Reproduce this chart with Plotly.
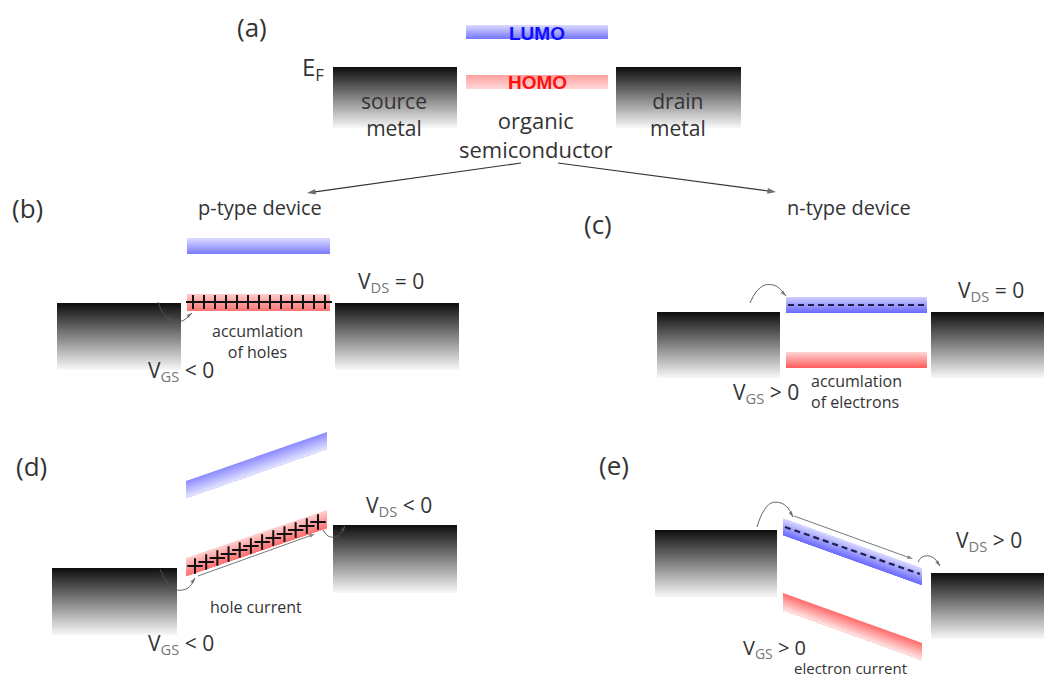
import plotly.graph_objects as go

W, H = 1044, 677

# ---- data: metal contacts (x0, x1, top, bottom) in picture units ----
metal_x0 = [333, 616, 57, 335, 657, 931, 52, 333, 655, 931]
metal_x1 = [457, 741, 181, 459, 780, 1044, 177, 457, 777, 1044]
metal_top = [67, 67, 303, 303, 312, 312, 568, 525, 530, 573]
metal_bot = [128, 128, 370, 370, 378, 378, 635, 593, 597, 639]

# ---- data: organic bands (x0, x1, top at left, top at right, thickness, colours) ----
band_x0 = [466, 466, 187, 187, 786, 786, 186, 186, 783, 783]
band_x1 = [608, 608, 330, 330, 927, 927, 327, 327, 922, 922]
band_yl = [25, 75, 238, 294, 297, 352, 481, 558, 518, 593]
band_yr = [25, 75, 238, 294, 297, 352, 432, 510, 568, 643]
band_th = [14, 14, 16, 17, 16, 16, 17, 18, 17, 17]
band_ctop = ["#dcdcff", "#ffa0a0", "#dcdcff", "#ffcccc", "#cfcfff", "#ffd4d4",
             "#8a8aff", "#ffd0d0", "#dadaff", "#ff6a6a"]
band_cbot = ["#7474ff", "#ffd8d8", "#7a7aff", "#ff7272", "#6a6aff", "#ff5c5c",
             "#e4e4ff", "#ff7070", "#6a6aff", "#ffe4e4"]

# ---- data: holes (+) and electrons (dashes) ----
plus_b_x = [193 + i * 11 for i in range(13)]
plus_b_y = [302] * 13
plus_d_x0, plus_d_x1, plus_d_y0, plus_d_y1, plus_d_n = 195, 318, 566, 522, 12
dash_c = ([788, 925], [305, 305])
dash_e = ([785, 920], [527, 574])

# ---- data: labels ----
labels = [
    ("(a)", 252, 27, 26, "center"), ("E<sub>F</sub>", 313, 68, 24, "center"),
    ("source<br>metal", 394, 114, 21, "center"),
    ("drain<br>metal", 678, 114, 21, "center"),
    ("organic<br>semiconductor", 536, 134, 22, "center"),
    ("(b)", 27, 208, 26, "center"), ("p-type device", 260, 207, 20, "center"),
    ("V<sub><span style='color:#777'>DS</span></sub> = 0", 391, 282, 21, "center"),
    ("accumlation<br>of holes", 257, 341, 16, "center"),
    ("V<sub><span style='color:#777'>GS</span></sub> &lt; 0", 181, 371, 21, "center"),
    ("(c)", 598, 224, 26, "center"), ("n-type device", 849, 207, 20, "center"),
    ("V<sub><span style='color:#777'>DS</span></sub> = 0", 991, 291, 21, "center"),
    ("V<sub><span style='color:#777'>GS</span></sub> &gt; 0", 766, 393, 21, "center"),
    ("accumlation<br>of electrons", 809, 391, 16, "left"),
    ("(d)", 31, 466, 26, "center"),
    ("V<sub><span style='color:#777'>DS</span></sub> &lt; 0", 399, 506, 21, "center"),
    ("hole current", 256, 607, 16, "center"),
    ("V<sub><span style='color:#777'>GS</span></sub> &lt; 0", 181, 644, 21, "center"),
    ("(e)", 614, 465, 26, "center"),
    ("V<sub><span style='color:#777'>DS</span></sub> &gt; 0", 989, 541, 21, "center"),
    ("V<sub><span style='color:#777'>GS</span></sub> &gt; 0", 774, 648, 20, "center"),
    ("electron current", 850, 668, 15, "center"),
]

# ---- data: small curved arrows (polyline points) ----
curves = [
    [(158, 302), (163, 313), (172, 320), (182, 321), (192, 313)],
    [(750, 303), (756, 292), (765, 285), (776, 286), (786, 296)],
    [(160, 569), (167, 582), (177, 590), (188, 588), (195, 578)],
    [(323, 530), (328, 536), (335, 537), (341, 533), (345, 526)],
    [(757, 527), (763, 512), (771, 503), (781, 503), (788, 508), (793, 517)],
    [(918, 562), (922, 557), (929, 556), (935, 559), (940, 566)],
]
straight = [[(198, 576), (315, 534)], [(794, 516), (913, 559)]]
big_arrows = [[(521, 163), (307, 193)], [(558, 163), (776, 192)]]


def hex2rgb(h):
    h = h.lstrip("#")
    return [int(h[i:i + 2], 16) for i in (0, 2, 4)]


def mix(c0, c1, f):
    a, b = hex2rgb(c0), hex2rgb(c1)
    return "rgb(%d,%d,%d)" % tuple(round(a[i] + (b[i] - a[i]) * f) for i in range(3))


fig = go.Figure()
shapes = []

# metals: vertical gradient black -> white (each strip runs to the bottom, so no seams)
NM = 48
for x0, x1, t, b in zip(metal_x0, metal_x1, metal_top, metal_bot):
    h = b - t
    for i in range(NM):
        y0 = t + h * i / NM
        shapes.append(dict(type="rect", xref="x", yref="y", x0=x0, x1=x1, y0=y0, y1=b,
                           fillcolor=mix("#0e0e0e", "#f8f8f8", (i + 0.5) / NM),
                           line=dict(width=0), layer="below"))

# bands: gradient across thickness
NB = 14
for x0, x1, yl, yr, th, ct, cb in zip(band_x0, band_x1, band_yl, band_yr, band_th, band_ctop, band_cbot):
    for i in range(NB):
        f0 = th * i / NB
        path = "M %f %f L %f %f L %f %f L %f %f Z" % (x0, yl + f0, x1, yr + f0, x1, yr + th, x0, yl + th)
        shapes.append(dict(type="path", xref="x", yref="y", path=path,
                           fillcolor=mix(ct, cb, (i + 0.5) / NB), line=dict(width=0), layer="below"))

# holes
fig.add_trace(go.Scatter(x=plus_b_x, y=plus_b_y, mode="markers", hoverinfo="skip",
                         marker=dict(symbol="cross-thin", size=10, line=dict(width=2, color="#111"))))
pdx = [plus_d_x0 + (plus_d_x1 - plus_d_x0) * i / (plus_d_n - 1) for i in range(plus_d_n)]
pdy = [plus_d_y0 + (plus_d_y1 - plus_d_y0) * i / (plus_d_n - 1) for i in range(plus_d_n)]
fig.add_trace(go.Scatter(x=pdx, y=pdy, mode="markers", hoverinfo="skip",
                         marker=dict(symbol="cross-thin", size=11, line=dict(width=2, color="#111"))))

# electrons (dashes)
for dx, dy in (dash_c, dash_e):
    fig.add_trace(go.Scatter(x=dx, y=dy, mode="lines", hoverinfo="skip",
                             line=dict(color="#20204a", width=2.2, dash="6px,4px")))


def arrow_trace(pts, color, width, head, spline):
    xs = [p[0] for p in pts]
    ys = [p[1] for p in pts]
    sizes = [0] * (len(pts) - 1) + [head]
    return go.Scatter(x=xs, y=ys, mode="lines+markers", hoverinfo="skip",
                      line=dict(color=color, width=width, shape="spline" if spline else "linear"),
                      marker=dict(symbol="arrow", angleref="previous", size=sizes,
                                  color=color, line=dict(width=0)))


for pts in curves:
    fig.add_trace(arrow_trace(pts, "#555", 0.9, 6, True))
for pts in straight:
    fig.add_trace(arrow_trace(pts, "#555", 0.8, 6, False))
for pts in big_arrows:
    fig.add_trace(arrow_trace(pts, "#333", 1.1, 9, False))

annotations = []
# band labels
annotations.append(dict(x=537, y=33, xref="x", yref="y", text="<b>LUMO</b>", showarrow=False,
                        font=dict(family="Liberation Sans, Arial", size=19, color="#1010ff")))
annotations.append(dict(x=537, y=82, xref="x", yref="y", text="<b>HOMO</b>", showarrow=False,
                        font=dict(family="Liberation Sans, Arial", size=19, color="#ff1010")))

for txt, x, y, s, anc in labels:
    annotations.append(dict(x=x, y=y, xref="x", yref="y", text=txt, showarrow=False,
                            xanchor=anc, yanchor="middle", align=anc,
                            font=dict(family="Open Sans, DejaVu Sans", size=s, color="#333")))

fig.update_layout(
    width=W, height=H, margin=dict(l=0, r=0, t=0, b=0),
    paper_bgcolor="white", plot_bgcolor="white", showlegend=False,
    xaxis=dict(range=[0, W], visible=False, fixedrange=True),
    yaxis=dict(range=[H, 0], visible=False, fixedrange=True),
    shapes=shapes, annotations=annotations,
)
fig.write_html("out.html")
